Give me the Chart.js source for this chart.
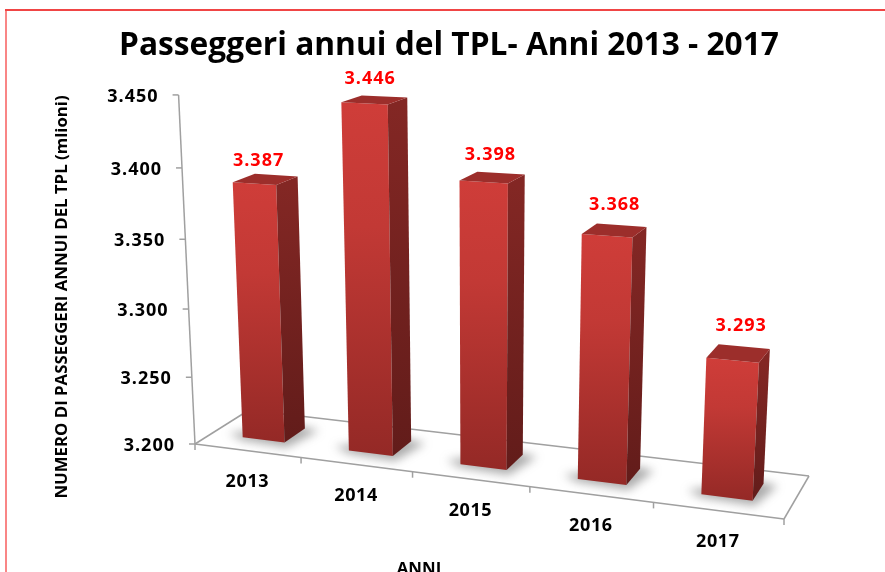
<!DOCTYPE html>
<html><head><meta charset="utf-8">
<style>html,body{margin:0;padding:0;background:#fff;overflow:hidden}canvas{display:block}</style>
<script src="https://cdn.jsdelivr.net/npm/chart.js@4"></script>
</head><body><canvas id="c" width="885" height="572"></canvas>
<script>
const years = ['2013','2014','2015','2016','2017'];
const passengers = [3387,3446,3398,3368,3293];
const tickMin = 3200, tickMax = 3450, tickStep = 50;
const titleText = 'Passeggeri annui del TPL- Anni 2013 - 2017';
const yTitle = 'NUMERO DI PASSEGGERI ANNUI DEL TPL (mlioni)';
const xTitle = 'ANNI';
const FONT = '"Open Sans", sans-serif';

// Perspective view: (u along categories, d depth into the floor, v value height), all 0..1
const Q = {x0:195,y0:444,x1:784,y1:519,x2:809,y2:476,x3:249,y3:410,vpx:480,vpy:6500,i:-0.0545};
const V = (()=>{const q=Q,dx1=q.x1-q.x2,dx2=q.x3-q.x2,sx=q.x0-q.x1+q.x2-q.x3,dy1=q.y1-q.y2,dy2=q.y3-q.y2,sy=q.y0-q.y1+q.y2-q.y3;
  const det=dx1*dy2-dx2*dy1,g=(sx*dy2-dx2*sy)/det,h=(dx1*sy-sx*dy1)/det;
  return {g,h,a:q.x1-q.x0+g*q.x1,b:q.x3-q.x0+h*q.x3,c:q.i*q.vpx,e:q.y1-q.y0+g*q.y1,f:q.y3-q.y0+h*q.y3,k:q.i*q.vpy};})();
function P(u,d,v){const w=1+V.g*u+V.h*d+Q.i*v;return [(Q.x0+V.a*u+V.b*d+V.c*v)/w,(Q.y0+V.e*u+V.f*d+V.k*v)/w];}
function poly(ctx,pts,fill){ctx.beginPath();pts.forEach((p,i)=>i?ctx.lineTo(p[0],p[1]):ctx.moveTo(p[0],p[1]));ctx.closePath();if(fill){ctx.fillStyle=fill;ctx.fill();}}
const D0=0.3,D1=0.7;

class Bar3D extends Chart.BarElement{
  static id='bar3d';
  draw(ctx){
    const chart=Chart.getChart(ctx.canvas),a=chart.chartArea;
    const {x,y,base,width}=this.getProps(['x','y','base','width'],true);
    const W=a.right-a.left,H=a.bottom-a.top;
    const u0=(x-width/2-a.left)/W,u1=(x+width/2-a.left)/W,v=(base-y)/H;
    const f0=P(u0,D0,0),f1=P(u1,D0,0),b1=P(u1,D1,0);
    const t0=P(u0,D0,v),t1=P(u1,D0,v),t2=P(u1,D1,v),t3=P(u0,D1,v);
    ctx.save();
    // soft shadow on the floor
    ctx.save();ctx.filter='blur(5px)';
    poly(ctx,[[f0[0]-14,f0[1]-4],[f0[0],f0[1]+3],[f1[0]+2,f1[1]+5],[b1[0]+14,b1[1]+2],[b1[0]-8,b1[1]-3]],'rgba(90,90,90,.5)');
    ctx.restore();
    let g=ctx.createLinearGradient(0,t0[1],0,f1[1]);g.addColorStop(0,'#CF3D39');g.addColorStop(.35,'#C23935');g.addColorStop(1,'#942926');
    poly(ctx,[t0,t1,f1,f0],g);
    g=ctx.createLinearGradient(0,t1[1],0,f1[1]);g.addColorStop(0,'#832724');g.addColorStop(1,'#621C1A');
    poly(ctx,[t1,t2,b1,f1],g);
    poly(ctx,[t0,t1,t2,t3],'#9C2E2B');
    ctx.restore();
  }
}
class Bar3DController extends Chart.BarController{
  static id='bar3d';
  static defaults={...Chart.BarController.defaults,dataElementType:'bar3d'};
}
Chart.register(Bar3D,Bar3DController);

function line(ctx,a,b){ctx.beginPath();ctx.moveTo(a[0],a[1]);ctx.lineTo(b[0],b[1]);ctx.stroke();}
const scene={
  id:'scene',
  beforeDraw(chart){
    const ctx=chart.ctx;ctx.save();
    ctx.fillStyle='#fff';ctx.fillRect(0,0,885,572);
    ctx.fillStyle='#F98686';ctx.fillRect(5,9,2,563);
    ctx.fillStyle='#F04545';ctx.fillRect(5,9,880,2);
    ctx.restore();
  },
  beforeDatasetsDraw(chart){
    const ctx=chart.ctx,ys=chart.scales.y,xs=chart.scales.x,a=chart.chartArea,H=a.bottom-a.top,W=a.right-a.left;
    ctx.save();ctx.strokeStyle='#A0A0A0';ctx.lineWidth=1.5;
    line(ctx,P(0,0,0),P(1,0,0));line(ctx,P(1,0,0),P(1,1,0));line(ctx,P(1,1,0),P(0,1,0));line(ctx,P(0,1,0),P(0,0,0));
    line(ctx,P(0,0,0),P(0,0,1));
    // y ticks and labels
    ctx.fillStyle='#000';ctx.textBaseline='middle';ctx.textAlign='right';
    ctx.font='bold 18px '+FONT;ctx.letterSpacing='1px';
    ys.ticks.forEach(t=>{
      const v=(a.bottom-ys.getPixelForValue(t.value))/H,p=P(0,0,v);
      line(ctx,p,[p[0]-6,p[1]]);
      ctx.fillText(t.label,p[0]-20,p[1]+1.5);
    });
    // x ticks and labels
    ctx.textAlign='center';
    const n=years.length;
    for(let k=0;k<=n;k++){const p=P(k/n,0,0);line(ctx,p,[p[0],p[1]+6]);}
    ctx.font='bold 18px '+FONT;ctx.letterSpacing='0.6px';
    xs.ticks.forEach((t,i)=>{
      const p=P((xs.getPixelForTick(i)-a.left)/W,0,0);
      ctx.fillText(t.label,p[0],p[1]+31.5);
    });
    ctx.letterSpacing='0px';
    // axis titles
    ctx.font='bold 16.8px '+FONT;ctx.fillText(xTitle,419,569);
    ctx.translate(62,297);ctx.rotate(-Math.PI/2);ctx.fillText(yTitle,0,0);
    ctx.restore();
  },
  afterDatasetsDraw(chart){
    const ctx=chart.ctx,a=chart.chartArea,W=a.right-a.left,H=a.bottom-a.top;
    ctx.save();ctx.fillStyle='#FF0000';ctx.font='bold 18px '+FONT;ctx.letterSpacing='1px';ctx.textAlign='center';ctx.textBaseline='middle';
    chart.getDatasetMeta(0).data.forEach((el,i)=>{
      const u=(el.x-a.left)/W,v=(el.base-el.y)/H,p=P(u,.5,v);
      ctx.fillText(String(passengers[i]).replace(/(\d)(\d{3})$/,'$1.$2'),p[0]-8+12*u,p[1]-17-12*u);
    });
    ctx.restore();
  }
};
new Chart(document.getElementById('c'),{
  type:'bar3d',
  data:{labels:years,datasets:[{label:'Passeggeri',data:passengers,base:tickMin,backgroundColor:'#C23935',categoryPercentage:.4,barPercentage:1,clip:false}]},
  plugins:[scene],
  options:{
    responsive:false,animation:false,
    layout:{padding:{left:13,right:0,top:0,bottom:128}},
    plugins:{legend:{display:false},tooltip:{enabled:false},
      title:{display:true,text:titleText,color:'#000',font:{family:FONT,size:31.7,weight:'bold',lineHeight:1.2},padding:{top:27,bottom:27},align:'center'}},
    scales:{
      x:{display:false},
      y:{display:false,min:tickMin,max:tickMax,ticks:{stepSize:tickStep,callback:v=>String(v).replace(/(\d)(\d{3})$/,'$1.$2')}}
    }
  }
});
</script></body></html>
